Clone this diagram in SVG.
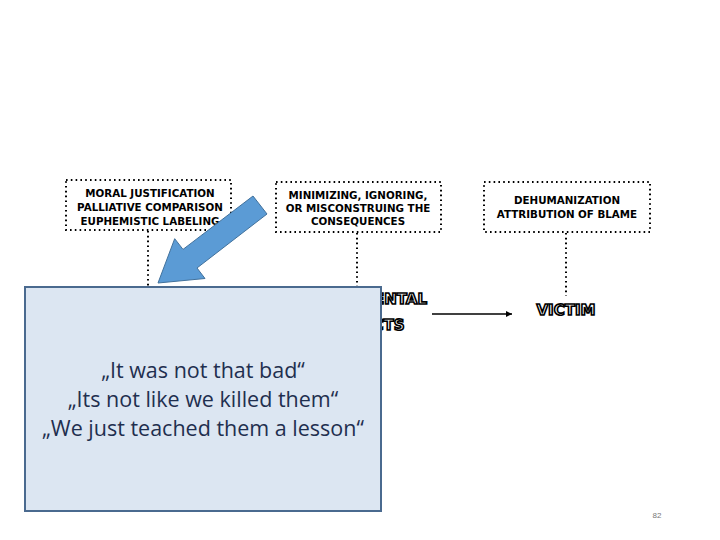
<svg xmlns="http://www.w3.org/2000/svg" width="720" height="540" viewBox="0 0 720 540">
<defs>
<style>
.dot{fill:none;stroke:#000;stroke-width:2;stroke-dasharray:1.6 3.2}
.lbl{font-family:"DejaVu Sans","Liberation Sans",sans-serif;font-weight:bold;font-size:10.3px;fill:#000;text-anchor:middle}
.out{font-family:"DejaVu Sans","Liberation Sans",sans-serif;font-weight:bold;font-size:15px;fill:#fff;stroke:#000;stroke-width:1.6;text-anchor:middle;text-rendering:geometricPrecision}
.quote{font-family:"Open Sans","Noto Sans",sans-serif;font-size:21.5px;fill:#1f2f4f;text-anchor:middle}
</style>
<marker id="ah" viewBox="0 0 10 10" refX="10" refY="5" markerWidth="8" markerHeight="6" markerUnits="userSpaceOnUse" orient="auto">
<path d="M0,0 L10,5 L0,10 z" fill="#000"/>
</marker>
</defs>
<rect width="720" height="540" fill="#fff"/>
<g id="connectors">
<line class="dot" x1="148" y1="231" x2="148" y2="290"/>
<line class="dot" x1="357" y1="233" x2="357" y2="290"/>
<line class="dot" x1="566" y1="233" x2="566" y2="296"/>
<line x1="432" y1="314" x2="512" y2="314" stroke="#000" stroke-width="1.5" marker-end="url(#ah)"/>
</g>
<g id="node-moral">
<rect class="dot" x="66" y="180" width="165" height="50"/>
<text class="lbl" x="150" y="197">MORAL JUSTIFICATION</text>
<text class="lbl" x="150" y="211">PALLIATIVE COMPARISON</text>
<text class="lbl" x="150" y="225">EUPHEMISTIC LABELING</text>
</g>
<g id="node-minimizing">
<rect class="dot" x="276" y="182" width="165" height="50"/>
<text class="lbl" x="358" y="199">MINIMIZING, IGNORING,</text>
<text class="lbl" x="358" y="212">OR MISCONSTRUING THE</text>
<text class="lbl" x="358" y="225">CONSEQUENCES</text>
</g>
<g id="node-dehumanization">
<rect class="dot" x="484" y="182" width="166" height="50"/>
<text class="lbl" x="567" y="204">DEHUMANIZATION</text>
<text class="lbl" x="567" y="218">ATTRIBUTION OF BLAME</text>
</g>
<g id="node-detrimental">
<text class="out" x="368" y="304">DETRIMENTAL</text>
<text class="out" x="368" y="330">EFFECTS</text>
</g>
<g id="node-victim">
<text class="out" x="566" y="315">VICTIM</text>
</g>
<g id="blue-arrow">
<polygon points="158,283 205,278.5 197,268 267,214 253,196 183,249.4 174.7,238.7" fill="#5b9bd5" stroke="#41719c" stroke-width="1"/>
</g>
<g id="node-quotes">
<rect x="25" y="287" width="356" height="224" fill="#dce6f2" stroke="#4a6a8f" stroke-width="2"/>
<text class="quote" x="203" y="378">„It was not that bad“</text>
<text class="quote" x="203" y="407">„Its not like we killed them“</text>
<text class="quote" x="203" y="436">„We just teached them a lesson“</text>
</g>
<text x="657" y="518" font-family="Liberation Sans,Arial,sans-serif" font-size="8" fill="#777" text-anchor="middle">82</text>
</svg>
